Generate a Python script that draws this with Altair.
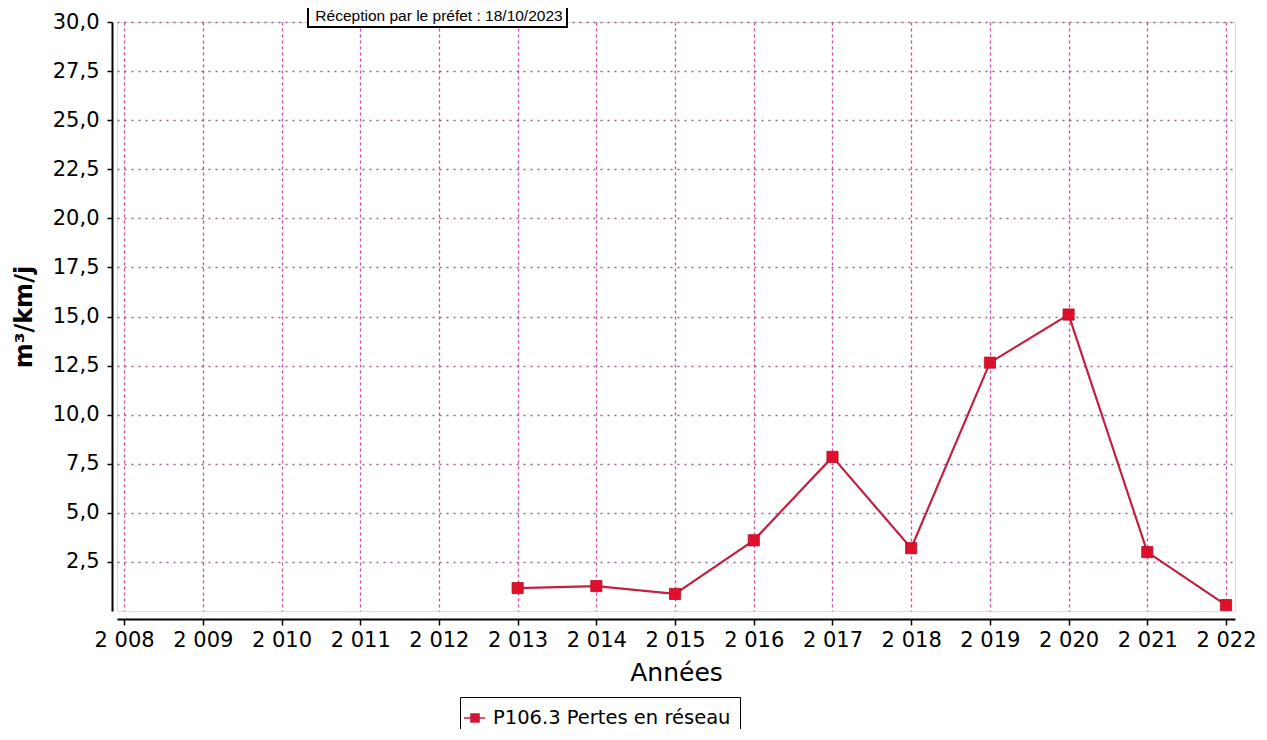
import altair as alt
import pandas as pd

years = [2013, 2014, 2015, 2016, 2017, 2018, 2019, 2020, 2021, 2022]
values = [1.17, 1.27, 0.87, 3.6, 7.85, 3.2, 12.65, 15.1, 3.0, 0.3]
series_name = "P106.3 Pertes en réseau"
x_ticks = list(range(2008, 2023))
y_ticks = [2.5, 5.0, 7.5, 10.0, 12.5, 15.0, 17.5, 20.0, 22.5, 25.0, 27.5, 30.0]
stamp_text = ["Réception par le préfet : 18/10/2023"]

df = pd.DataFrame({"annee": years, "valeur": values, "serie": [series_name] * len(years)})
stamp = pd.DataFrame({"t": stamp_text})

LINE = "#c41f3e"
MARK = "#e0102c"
FONT = "DejaVu Sans"

xscale = alt.Scale(domain=[2007.91, 2022.114], nice=False, zero=False)
yscale = alt.Scale(domain=[0, 30], nice=False)

xaxis = alt.Axis(
    values=x_ticks,
    labelExpr="substring(format(datum.value,'d'),0,1) + ' ' + substring(format(datum.value,'d'),1)",
    title="Années", titleFontSize=25, titleFont=FONT, titleFontWeight="normal",
    titleColor="black", titlePadding=10,
    labelFont=FONT, labelFontSize=21, labelColor="black", labelPadding=4,
    labelFlush=False, labelOverlap=False,
    offset=8, domainColor="black", domainWidth=2, tickColor="black", tickWidth=1.5, tickSize=6,
    grid=True, gridColor="#d2489c", gridDash=[3, 3], gridWidth=1.3, gridOpacity=1,
)
yaxis = alt.Axis(
    values=y_ticks,
    labelExpr="replace(format(datum.value,'.1f'),'.',',')",
    title="m³/km/j", titleFontSize=24, titleFont=FONT, titleFontWeight="bold",
    titleColor="black", titlePadding=16,
    labelFont=FONT, labelFontSize=21, labelColor="black", labelPadding=8,
    labelOverlap=False,
    offset=5, domainColor="black", domainWidth=2, tickColor="black", tickWidth=1.5, tickSize=5,
    grid=True, gridColor="#94648c", gridDash=[2, 5], gridWidth=1.3, gridOpacity=1,
)

line = alt.Chart(df).mark_line(color=LINE, strokeWidth=2.2).encode(
    x=alt.X("annee:Q", scale=xscale, axis=xaxis),
    y=alt.Y("valeur:Q", scale=yscale, axis=yaxis),
)

legend_path = "M-1.55,0H0.36M-0.91,-0.36H-0.18V0.36H-0.91Z"
points = alt.Chart(df).mark_point(shape="square", filled=True, size=125, opacity=1,
                                  stroke="#b0102a", strokeWidth=0.8).encode(
    x="annee:Q",
    y="valeur:Q",
    fill=alt.Fill("serie:N", scale=alt.Scale(domain=[series_name], range=[MARK]),
                  legend=alt.Legend(
                      title=None, orient="none", legendX=343, legendY=675,
                      symbolType=legend_path, symbolSize=484,
                      symbolStrokeColor=LINE, symbolStrokeWidth=1.6, symbolOpacity=1,
                      labelFont=FONT, labelFontSize=19.5, labelColor="black", labelOffset=0,
                      labelLimit=500,
                      padding=9, strokeColor="black", fillColor="white",
                  )),
)

stamp_box = alt.Chart(stamp).mark_rect(fill="white", stroke="black", strokeWidth=2).encode(
    x=alt.value(191), x2=alt.value(450), y=alt.value(-30), y2=alt.value(5)
)
stamp_txt = alt.Chart(stamp).mark_text(font="Liberation Sans", fontSize=15.5, color="black",
                                        align="center", baseline="middle").encode(
    x=alt.value(322), y=alt.value(-6), text="t:N"
)

chart = alt.layer(line, points, stamp_box, stamp_txt).properties(
    width=1118, height=589,
    autosize="none",
    padding={"left": 109, "top": 14, "right": 24, "bottom": 118},
).configure_view(stroke="black", strokeWidth=2).configure(background="white")

chart.save("out.html", embed_options={"renderer": "svg", "actions": False})
